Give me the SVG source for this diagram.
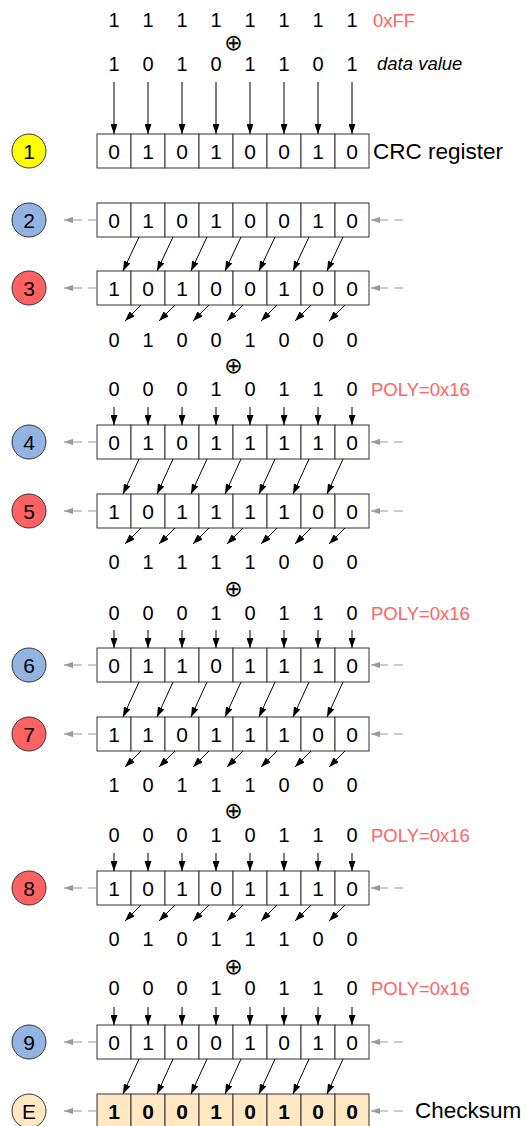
<svg xmlns="http://www.w3.org/2000/svg" width="527" height="1126" viewBox="0 0 527 1126">
<style>
.cell{fill:#fff;stroke:#333;stroke-width:1}
.cellE{fill:#FFE8C2;stroke:#333;stroke-width:1}
.rv{font-family:"Liberation Sans",Arial,sans-serif;font-size:21px;text-anchor:middle;fill:#000}
.rvb{font-family:"Liberation Sans",Arial,sans-serif;font-size:21px;font-weight:bold;text-anchor:middle;fill:#000}
.dg{font-family:"Liberation Sans",Arial,sans-serif;font-size:20px;text-anchor:middle;fill:#000}
.lbl{font-family:"Liberation Sans",Arial,sans-serif;font-size:18.5px;fill:#FF6464}
.it{font-family:"Liberation Sans",Arial,sans-serif;font-size:18.5px;font-style:italic;fill:#000}
.big{font-family:"Liberation Sans",Arial,sans-serif;font-size:22.5px;fill:#000}
.xor{font-family:"DejaVu Sans",sans-serif;font-size:22px;text-anchor:middle;fill:#000}
.num{font-family:"Liberation Sans",Arial,sans-serif;font-size:21px;text-anchor:middle;fill:#000}
.n{stroke:#333;stroke-width:1}
.arr{stroke:#000;stroke-width:1;fill:none;marker-end:url(#ah)}
.garr{stroke:#9a9a9a;stroke-width:1.2;stroke-dasharray:9 6;fill:none;marker-end:url(#gah)}
</style>
<defs>
<marker id="ah" viewBox="0 0 10 7" refX="10" refY="3.5" markerWidth="10" markerHeight="7" markerUnits="userSpaceOnUse" orient="auto"><path d="M0,0 L10,3.5 L0,7 z" fill="#000"/></marker>
<marker id="gah" viewBox="0 0 10 7" refX="10" refY="3.5" markerWidth="9" markerHeight="6.3" markerUnits="userSpaceOnUse" orient="auto"><path d="M0,0 L10,3.5 L0,7 z" fill="#9a9a9a"/></marker>
<g id="reg">
<rect class="cell" x="97" y="0" width="34" height="34"/><rect class="cell" x="131" y="0" width="34" height="34"/><rect class="cell" x="165" y="0" width="34" height="34"/><rect class="cell" x="199" y="0" width="34" height="34"/><rect class="cell" x="233" y="0" width="34" height="34"/><rect class="cell" x="267" y="0" width="34" height="34"/><rect class="cell" x="301" y="0" width="34" height="34"/><rect class="cell" x="335" y="0" width="34" height="34"/>
</g>
<g id="regE">
<rect class="cellE" x="97" y="0" width="34" height="34"/><rect class="cellE" x="131" y="0" width="34" height="34"/><rect class="cellE" x="165" y="0" width="34" height="34"/><rect class="cellE" x="199" y="0" width="34" height="34"/><rect class="cellE" x="233" y="0" width="34" height="34"/><rect class="cellE" x="267" y="0" width="34" height="34"/><rect class="cellE" x="301" y="0" width="34" height="34"/><rect class="cellE" x="335" y="0" width="34" height="34"/>
</g>
</defs>

<g id="input">
<text class="dg" y="27"><tspan x="114">1</tspan><tspan x="148">1</tspan><tspan x="182">1</tspan><tspan x="216">1</tspan><tspan x="250">1</tspan><tspan x="284">1</tspan><tspan x="318">1</tspan><tspan x="352">1</tspan></text>
<text class="lbl" x="373" y="27">0xFF</text>
<text class="xor" x="233.5" y="49.5">⊕</text>
<text class="dg" y="71"><tspan x="114">1</tspan><tspan x="148">0</tspan><tspan x="182">1</tspan><tspan x="216">0</tspan><tspan x="250">1</tspan><tspan x="284">1</tspan><tspan x="318">0</tspan><tspan x="352">1</tspan></text>
<text class="it" x="377" y="70">data value</text>
</g>

<g id="step1">
<circle class="n" cx="29" cy="151" r="17" fill="#FFFF00"/><text class="num" x="29" y="158.5">1</text>
<use href="#reg" y="134"/>
<text class="rv" y="158.5"><tspan x="114">0</tspan><tspan x="148">1</tspan><tspan x="182">0</tspan><tspan x="216">1</tspan><tspan x="250">0</tspan><tspan x="284">0</tspan><tspan x="318">1</tspan><tspan x="352">0</tspan></text>
<text class="big" x="373" y="159">CRC register</text>
</g>

<g id="step2">
<circle class="n" cx="29" cy="220" r="17" fill="#92B4E3"/><text class="num" x="29" y="227.5">2</text>
<use href="#reg" y="203"/>
<text class="rv" y="227.5"><tspan x="114">0</tspan><tspan x="148">1</tspan><tspan x="182">0</tspan><tspan x="216">1</tspan><tspan x="250">0</tspan><tspan x="284">0</tspan><tspan x="318">1</tspan><tspan x="352">0</tspan></text>
</g>

<g id="step3">
<circle class="n" cx="29" cy="288" r="17" fill="#FF6262"/><text class="num" x="29" y="295.5">3</text>
<use href="#reg" y="271"/>
<text class="rv" y="295.5"><tspan x="114">1</tspan><tspan x="148">0</tspan><tspan x="182">1</tspan><tspan x="216">0</tspan><tspan x="250">0</tspan><tspan x="284">1</tspan><tspan x="318">0</tspan><tspan x="352">0</tspan></text>
</g>

<g id="xor1">
<text class="dg" y="347"><tspan x="114">0</tspan><tspan x="148">1</tspan><tspan x="182">0</tspan><tspan x="216">0</tspan><tspan x="250">1</tspan><tspan x="284">0</tspan><tspan x="318">0</tspan><tspan x="352">0</tspan></text>
<text class="xor" x="233.5" y="372.5">⊕</text>
<text class="dg" y="396"><tspan x="114">0</tspan><tspan x="148">0</tspan><tspan x="182">0</tspan><tspan x="216">1</tspan><tspan x="250">0</tspan><tspan x="284">1</tspan><tspan x="318">1</tspan><tspan x="352">0</tspan></text>
<text class="lbl" x="371" y="396">POLY=0x16</text>
</g>

<g id="step4">
<circle class="n" cx="29" cy="442" r="17" fill="#92B4E3"/><text class="num" x="29" y="449.5">4</text>
<use href="#reg" y="425"/>
<text class="rv" y="449.5"><tspan x="114">0</tspan><tspan x="148">1</tspan><tspan x="182">0</tspan><tspan x="216">1</tspan><tspan x="250">1</tspan><tspan x="284">1</tspan><tspan x="318">1</tspan><tspan x="352">0</tspan></text>
</g>

<g id="step5">
<circle class="n" cx="29" cy="511" r="17" fill="#FF6262"/><text class="num" x="29" y="518.5">5</text>
<use href="#reg" y="494"/>
<text class="rv" y="518.5"><tspan x="114">1</tspan><tspan x="148">0</tspan><tspan x="182">1</tspan><tspan x="216">1</tspan><tspan x="250">1</tspan><tspan x="284">1</tspan><tspan x="318">0</tspan><tspan x="352">0</tspan></text>
</g>

<g id="xor2">
<text class="dg" y="569"><tspan x="114">0</tspan><tspan x="148">1</tspan><tspan x="182">1</tspan><tspan x="216">1</tspan><tspan x="250">1</tspan><tspan x="284">0</tspan><tspan x="318">0</tspan><tspan x="352">0</tspan></text>
<text class="xor" x="233.5" y="595.5">⊕</text>
<text class="dg" y="620"><tspan x="114">0</tspan><tspan x="148">0</tspan><tspan x="182">0</tspan><tspan x="216">1</tspan><tspan x="250">0</tspan><tspan x="284">1</tspan><tspan x="318">1</tspan><tspan x="352">0</tspan></text>
<text class="lbl" x="371" y="620">POLY=0x16</text>
</g>

<g id="step6">
<circle class="n" cx="29" cy="665" r="17" fill="#92B4E3"/><text class="num" x="29" y="672.5">6</text>
<use href="#reg" y="648"/>
<text class="rv" y="672.5"><tspan x="114">0</tspan><tspan x="148">1</tspan><tspan x="182">1</tspan><tspan x="216">0</tspan><tspan x="250">1</tspan><tspan x="284">1</tspan><tspan x="318">1</tspan><tspan x="352">0</tspan></text>
</g>

<g id="step7">
<circle class="n" cx="29" cy="734" r="17" fill="#FF6262"/><text class="num" x="29" y="741.5">7</text>
<use href="#reg" y="717"/>
<text class="rv" y="741.5"><tspan x="114">1</tspan><tspan x="148">1</tspan><tspan x="182">0</tspan><tspan x="216">1</tspan><tspan x="250">1</tspan><tspan x="284">1</tspan><tspan x="318">0</tspan><tspan x="352">0</tspan></text>
</g>

<g id="xor3">
<text class="dg" y="792"><tspan x="114">1</tspan><tspan x="148">0</tspan><tspan x="182">1</tspan><tspan x="216">1</tspan><tspan x="250">1</tspan><tspan x="284">0</tspan><tspan x="318">0</tspan><tspan x="352">0</tspan></text>
<text class="xor" x="233.5" y="817.5">⊕</text>
<text class="dg" y="842"><tspan x="114">0</tspan><tspan x="148">0</tspan><tspan x="182">0</tspan><tspan x="216">1</tspan><tspan x="250">0</tspan><tspan x="284">1</tspan><tspan x="318">1</tspan><tspan x="352">0</tspan></text>
<text class="lbl" x="371" y="842">POLY=0x16</text>
</g>

<g id="step8">
<circle class="n" cx="29" cy="888" r="17" fill="#FF6262"/><text class="num" x="29" y="895.5">8</text>
<use href="#reg" y="871"/>
<text class="rv" y="895.5"><tspan x="114">1</tspan><tspan x="148">0</tspan><tspan x="182">1</tspan><tspan x="216">0</tspan><tspan x="250">1</tspan><tspan x="284">1</tspan><tspan x="318">1</tspan><tspan x="352">0</tspan></text>
</g>

<g id="xor4">
<text class="dg" y="946"><tspan x="114">0</tspan><tspan x="148">1</tspan><tspan x="182">0</tspan><tspan x="216">1</tspan><tspan x="250">1</tspan><tspan x="284">1</tspan><tspan x="318">0</tspan><tspan x="352">0</tspan></text>
<text class="xor" x="233.5" y="973.5">⊕</text>
<text class="dg" y="995"><tspan x="114">0</tspan><tspan x="148">0</tspan><tspan x="182">0</tspan><tspan x="216">1</tspan><tspan x="250">0</tspan><tspan x="284">1</tspan><tspan x="318">1</tspan><tspan x="352">0</tspan></text>
<text class="lbl" x="371" y="995">POLY=0x16</text>
</g>

<g id="step9">
<circle class="n" cx="29" cy="1042" r="17" fill="#92B4E3"/><text class="num" x="29" y="1049.5">9</text>
<use href="#reg" y="1025"/>
<text class="rv" y="1049.5"><tspan x="114">0</tspan><tspan x="148">1</tspan><tspan x="182">0</tspan><tspan x="216">0</tspan><tspan x="250">1</tspan><tspan x="284">0</tspan><tspan x="318">1</tspan><tspan x="352">0</tspan></text>
</g>

<g id="stepE">
<circle class="n" cx="29" cy="1111" r="17" fill="#FFE8C2"/><text class="num" x="29" y="1118.5">E</text>
<use href="#regE" y="1094"/>
<text class="rvb" y="1118.5"><tspan x="114">1</tspan><tspan x="148">0</tspan><tspan x="182">0</tspan><tspan x="216">1</tspan><tspan x="250">0</tspan><tspan x="284">1</tspan><tspan x="318">0</tspan><tspan x="352">0</tspan></text>
<text class="big" x="415" y="1118">Checksum</text>
</g>

<g id="connectors">
<path class="arr" d="M114,82V134"/><path class="arr" d="M148,82V134"/><path class="arr" d="M182,82V134"/><path class="arr" d="M216,82V134"/><path class="arr" d="M250,82V134"/><path class="arr" d="M284,82V134"/><path class="arr" d="M318,82V134"/><path class="arr" d="M352,82V134"/>
<path class="arr" d="M139,237L123,271"/><path class="arr" d="M173,237L157,271"/><path class="arr" d="M207,237L191,271"/><path class="arr" d="M241,237L225,271"/><path class="arr" d="M275,237L259,271"/><path class="arr" d="M309,237L293,271"/><path class="arr" d="M343,237L327,271"/>
<path class="arr" d="M141,305L125,321"/><path class="arr" d="M175,305L159,321"/><path class="arr" d="M209,305L193,321"/><path class="arr" d="M243,305L227,321"/><path class="arr" d="M277,305L261,321"/><path class="arr" d="M311,305L295,321"/><path class="arr" d="M345,305L329,321"/>
<path class="arr" d="M114,407V425"/><path class="arr" d="M148,407V425"/><path class="arr" d="M182,407V425"/><path class="arr" d="M216,407V425"/><path class="arr" d="M250,407V425"/><path class="arr" d="M284,407V425"/><path class="arr" d="M318,407V425"/><path class="arr" d="M352,407V425"/>
<path class="arr" d="M139,459L123,494"/><path class="arr" d="M173,459L157,494"/><path class="arr" d="M207,459L191,494"/><path class="arr" d="M241,459L225,494"/><path class="arr" d="M275,459L259,494"/><path class="arr" d="M309,459L293,494"/><path class="arr" d="M343,459L327,494"/>
<path class="arr" d="M141,528L125,544"/><path class="arr" d="M175,528L159,544"/><path class="arr" d="M209,528L193,544"/><path class="arr" d="M243,528L227,544"/><path class="arr" d="M277,528L261,544"/><path class="arr" d="M311,528L295,544"/><path class="arr" d="M345,528L329,544"/>
<path class="arr" d="M114,630V648"/><path class="arr" d="M148,630V648"/><path class="arr" d="M182,630V648"/><path class="arr" d="M216,630V648"/><path class="arr" d="M250,630V648"/><path class="arr" d="M284,630V648"/><path class="arr" d="M318,630V648"/><path class="arr" d="M352,630V648"/>
<path class="arr" d="M139,682L123,717"/><path class="arr" d="M173,682L157,717"/><path class="arr" d="M207,682L191,717"/><path class="arr" d="M241,682L225,717"/><path class="arr" d="M275,682L259,717"/><path class="arr" d="M309,682L293,717"/><path class="arr" d="M343,682L327,717"/>
<path class="arr" d="M141,751L125,767"/><path class="arr" d="M175,751L159,767"/><path class="arr" d="M209,751L193,767"/><path class="arr" d="M243,751L227,767"/><path class="arr" d="M277,751L261,767"/><path class="arr" d="M311,751L295,767"/><path class="arr" d="M345,751L329,767"/>
<path class="arr" d="M114,853V871"/><path class="arr" d="M148,853V871"/><path class="arr" d="M182,853V871"/><path class="arr" d="M216,853V871"/><path class="arr" d="M250,853V871"/><path class="arr" d="M284,853V871"/><path class="arr" d="M318,853V871"/><path class="arr" d="M352,853V871"/>
<path class="arr" d="M141,905L125,921"/><path class="arr" d="M175,905L159,921"/><path class="arr" d="M209,905L193,921"/><path class="arr" d="M243,905L227,921"/><path class="arr" d="M277,905L261,921"/><path class="arr" d="M311,905L295,921"/><path class="arr" d="M345,905L329,921"/>
<path class="arr" d="M114,1007V1025"/><path class="arr" d="M148,1007V1025"/><path class="arr" d="M182,1007V1025"/><path class="arr" d="M216,1007V1025"/><path class="arr" d="M250,1007V1025"/><path class="arr" d="M284,1007V1025"/><path class="arr" d="M318,1007V1025"/><path class="arr" d="M352,1007V1025"/>
<path class="arr" d="M139,1059L123,1094"/><path class="arr" d="M173,1059L157,1094"/><path class="arr" d="M207,1059L191,1094"/><path class="arr" d="M241,1059L225,1094"/><path class="arr" d="M275,1059L259,1094"/><path class="arr" d="M309,1059L293,1094"/><path class="arr" d="M343,1059L327,1094"/>
<path class="garr" d="M97,220H64"/><path class="garr" d="M403,220H371"/>
<path class="garr" d="M97,288H64"/><path class="garr" d="M403,288H371"/>
<path class="garr" d="M97,442H64"/><path class="garr" d="M403,442H371"/>
<path class="garr" d="M97,511H64"/><path class="garr" d="M403,511H371"/>
<path class="garr" d="M97,665H64"/><path class="garr" d="M403,665H371"/>
<path class="garr" d="M97,734H64"/><path class="garr" d="M403,734H371"/>
<path class="garr" d="M97,888H64"/><path class="garr" d="M403,888H371"/>
<path class="garr" d="M97,1042H64"/><path class="garr" d="M403,1042H371"/>
<path class="garr" d="M97,1111H64"/><path class="garr" d="M403,1111H371"/>
</g>
</svg>
